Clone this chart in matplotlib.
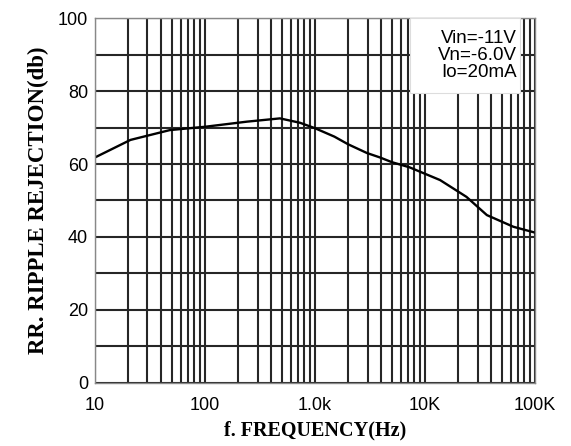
import matplotlib.pyplot as plt
from matplotlib.patches import Rectangle
from matplotlib.ticker import FixedLocator, LogLocator, NullFormatter

# curve
freq = [10, 21, 48, 100, 240, 480, 730, 1000, 1500, 2000, 2970, 3890, 5000, 7220,
        13700, 23800, 36500, 63600, 100000]
rr_db = [61.8, 66.6, 69.3, 70.2, 71.6, 72.5, 71.3, 69.8, 67.5, 65.4, 63.0, 61.8, 60.5, 59.1,
         55.6, 51.0, 46.0, 42.8, 41.2]

x_ticks = [10, 100, 1000, 10000, 100000]
x_labels = ["10", "100", "1.0k", "10K", "100K"]
y_ticks = [0, 20, 40, 60, 80, 100]

fig = plt.figure(figsize=(5.71, 4.46), dpi=100)
ax = fig.add_axes([0.1664, 0.1413, 0.7706, 0.8183])

ax.set_xscale("log")
ax.set_xlim(10, 100000)
ax.set_ylim(0, 100)

ax.xaxis.set_major_locator(FixedLocator(x_ticks))
ax.xaxis.set_minor_locator(LogLocator(base=10, subs=range(2, 10)))
ax.xaxis.set_minor_formatter(NullFormatter())
ax.set_xticklabels(x_labels)
ax.yaxis.set_major_locator(FixedLocator(y_ticks))
ax.yaxis.set_minor_locator(FixedLocator(range(10, 100, 20)))

ax.grid(True, which="both", color="#262626", linewidth=1.5)
ax.set_axisbelow(True)
ax.tick_params(which="both", length=0, labelsize=13)
ax.tick_params(axis="x", pad=10)
ax.tick_params(axis="y", pad=5)
for lab in ax.get_xticklabels() + ax.get_yticklabels():
    lab.set_fontfamily("Liberation Sans")

for side in ax.spines.values():
    side.set_color("#888888")
    side.set_linewidth(1.0)

ax.plot(freq, rr_db, color="black", linewidth=1.7)

# white box for conditions
ax.add_patch(Rectangle((0.716, 0.795), 0.25, 0.205, transform=ax.transAxes,
                       facecolor="white", edgecolor="#dddddd", linewidth=0.8, zorder=3))
ax.text(0.958, 0.968, "Vin=-11V\nVn=-6.0V\nIo=20mA", transform=ax.transAxes,
        ha="right", va="top", fontsize=13.5, family="Liberation Sans", linespacing=1.02,
        zorder=4)

ax.set_xlabel("f. FREQUENCY(Hz)", fontsize=14.5, fontweight="bold", family="Liberation Serif", labelpad=5)
ax.set_ylabel("RR. RIPPLE REJECTION(db)", fontsize=16.5, fontweight="bold", family="Liberation Serif", labelpad=6)

fig.savefig("out.png", dpi=100)
